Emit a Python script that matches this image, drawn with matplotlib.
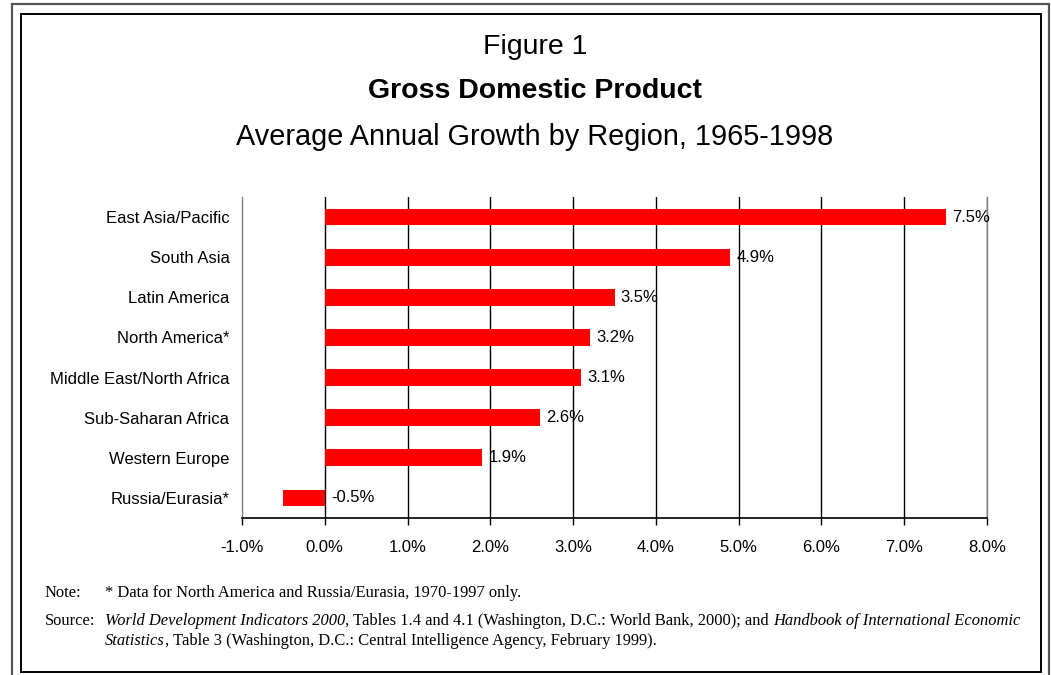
import matplotlib
matplotlib.use("Agg")
import matplotlib.pyplot as plt
from matplotlib.patches import Rectangle

regions = ["East Asia/Pacific", "South Asia", "Latin America", "North America*",
           "Middle East/North Africa", "Sub-Saharan Africa", "Western Europe", "Russia/Eurasia*"]
growth = [7.5, 4.9, 3.5, 3.2, 3.1, 2.6, 1.9, -0.5]
xticks = [-1, 0, 1, 2, 3, 4, 5, 6, 7, 8]

W, H = 1051, 675
fig = plt.figure(figsize=(W / 100, H / 100), dpi=100)
plt.rcParams['font.family'] = ['Liberation Sans', 'DejaVu Sans']

def fx(px):
    return px / W

def fy(py):
    return 1 - py / H

# Frames
fig.patches.append(Rectangle((fx(12), fy(690)), fx(1049 - 12), (690 - 4) / H,
                             transform=fig.transFigure, fill=False, edgecolor='#555555', lw=1.6))
fig.patches.append(Rectangle((fx(21), fy(672)), fx(1041 - 21), (672 - 14) / H,
                             transform=fig.transFigure, fill=False, edgecolor='black', lw=1.4))

# Titles
fig.text(fx(535), fy(47), "Figure 1", ha='center', va='center', fontsize=20.5)
fig.text(fx(535), fy(91), "Gross Domestic Product", ha='center', va='center', fontsize=20.5, fontweight='bold')
fig.text(fx(535), fy(137), "Average Annual Growth by Region, 1965-1998", ha='center', va='center', fontsize=20.8)

ax = fig.add_axes([fx(242), fy(518), fx(987 - 242), (518 - 197) / H])
ypos = list(range(len(regions)))
ax.barh(ypos, growth, height=0.42, color='#ff0000', zorder=3)
ax.set_xlim(-1, 8)
ax.set_ylim(len(regions) - 0.5, -0.5)
ax.set_xticks(xticks)
ax.set_xticklabels([f"{v:.1f}%" for v in xticks], fontsize=12)
ax.set_yticks(ypos)
ax.set_yticklabels(regions, fontsize=12)
ax.tick_params(axis='y', length=0, pad=9)
ax.tick_params(axis='x', direction='out', length=5, width=1, color='black', pad=10.5)
for v in xticks[1:]:
    ax.axvline(v, color='black', lw=1, zorder=1)
for s in ['left', 'right', 'top']:
    ax.spines[s].set_color('#808080')
    ax.spines[s].set_linewidth(1)
ax.spines['top'].set_visible(False)
ax.spines['bottom'].set_color('black')
ax.spines['bottom'].set_linewidth(1.2)

for y, v in zip(ypos, growth):
    xx = max(v, 0)
    ax.annotate(f"{v:.1f}%", (xx, y), xytext=(4.5, 0), textcoords='offset points',
                ha='left', va='center', fontsize=12, zorder=4)

serif = ['Liberation Serif', 'DejaVu Serif']
fs = 11.85
fig.text(fx(45), fy(593), "Note:", family=serif, fontsize=fs, va='center')
fig.text(fx(105), fy(593), "* Data for North America and Russia/Eurasia, 1970-1997 only.",
         family=serif, fontsize=fs, va='center')
fig.text(fx(45), fy(621), "Source:", family=serif, fontsize=fs, va='center')

def line(x0, y, parts):
    r = fig.canvas.get_renderer()
    x = fx(x0)
    for txt, style in parts:
        t = fig.text(x, fy(y), txt, family=serif, fontsize=fs, style=style, va='center')
        bb = t.get_window_extent(renderer=r)
        x += bb.width / W

line(105, 621, [("World Development Indicators 2000", 'italic'),
                (", Tables 1.4 and 4.1 (Washington, D.C.: World Bank, 2000); and ", 'normal'),
                ("Handbook of International Economic", 'italic')])
line(105, 641, [("Statistics", 'italic'),
                (", Table 3 (Washington, D.C.: Central Intelligence Agency, February 1999).", 'normal')])

fig.savefig("out.png", dpi=100)
